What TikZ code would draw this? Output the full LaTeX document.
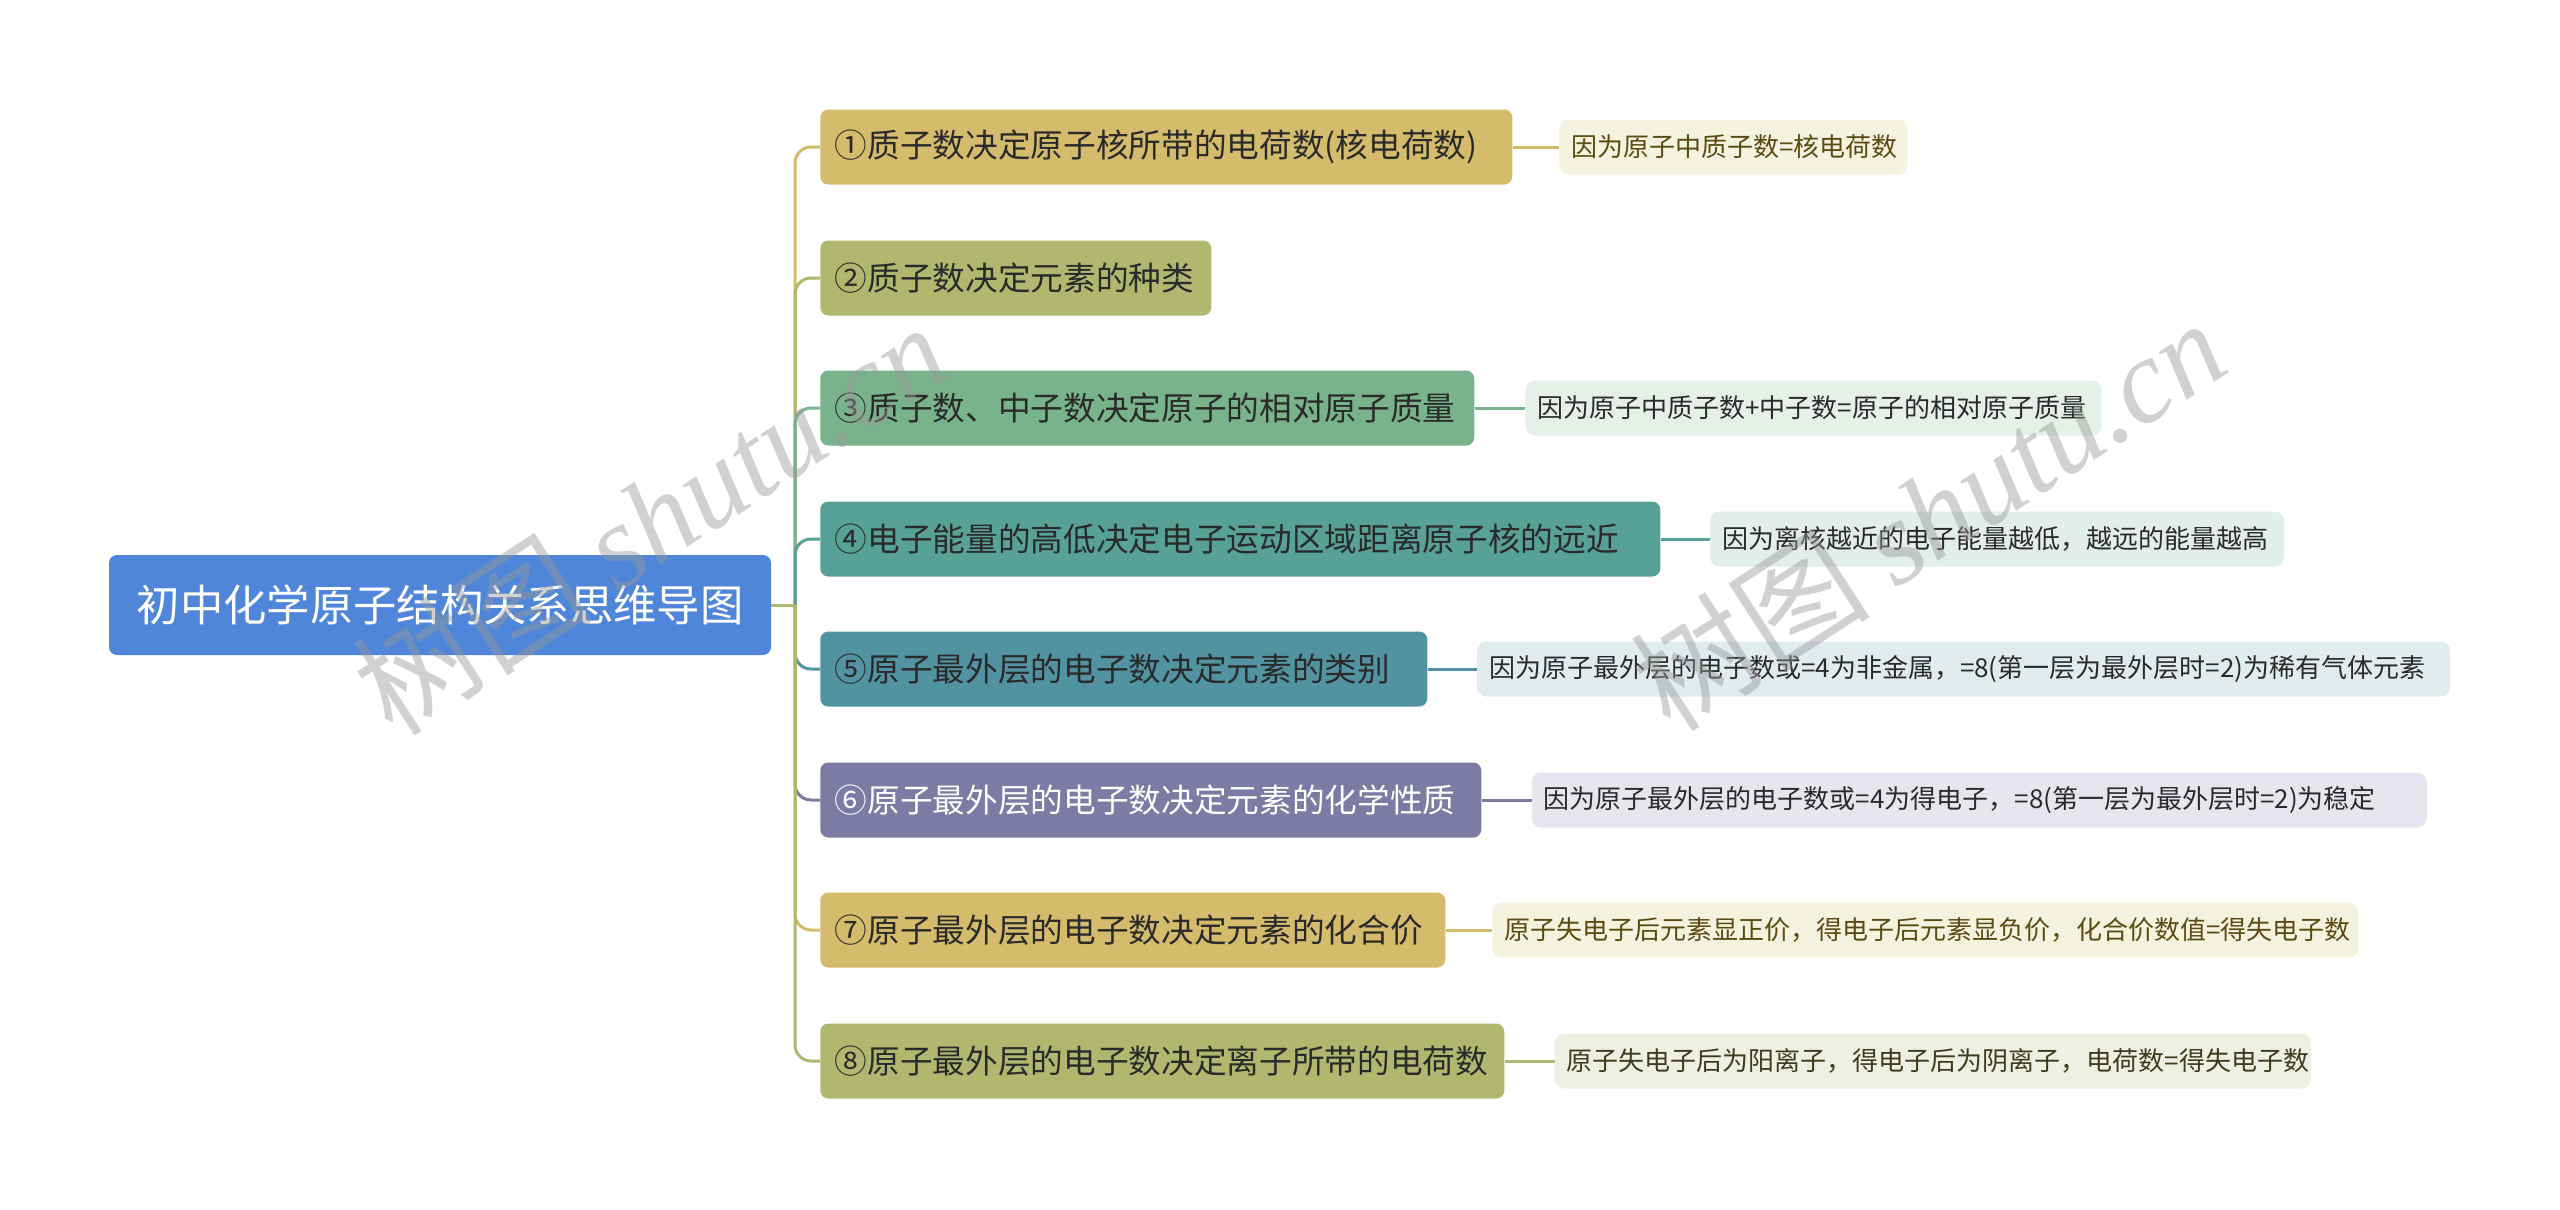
\documentclass[tikz,border=0pt]{standalone}
\usepackage{fontspec}
\setmainfont{Noto Sans CJK SC}
\newfontfamily\wmserif{Liberation Serif}
\definecolor{rootc}{HTML}{4F86D9}
\definecolor{cgold}{HTML}{D5BC6C}
\definecolor{colive}{HTML}{AFB86E}
\definecolor{cgreen}{HTML}{79B38C}
\definecolor{cteal}{HTML}{57A197}
\definecolor{cblue}{HTML}{5293A2}
\definecolor{cpurple}{HTML}{7B7BA3}
\definecolor{lgold}{HTML}{F6F2E0}
\definecolor{lgreen}{HTML}{E5F0E8}
\definecolor{lteal}{HTML}{E2EEEC}
\definecolor{lblue}{HTML}{E0ECEE}
\definecolor{lpurple}{HTML}{E6E6EE}
\definecolor{lolive}{HTML}{EFEFE3}
\definecolor{tdark}{HTML}{2A2A2A}
\definecolor{tbrown}{HTML}{5B4B12}
\definecolor{tolive}{HTML}{3C3C1E}
\tikzset{
  rootbox/.style={fill=rootc, rounded corners=6pt, text=white, minimum width=496.5pt, minimum height=75pt, inner xsep=10pt, font=\fontsize{32.5pt}{36pt}\selectfont},
  branchbox/.style={rounded corners=6pt, text=tdark, minimum height=56.25pt, inner xsep=11pt, anchor=west, align=left, font=\fontsize{24.5pt}{28pt}\selectfont},
  leafbox/.style={rounded corners=7pt, text=tdark, minimum height=41.25pt, inner xsep=9pt, anchor=west, align=left, font=\fontsize{19.5pt}{23pt}\selectfont},
  conn/.style={line width=2.25pt},
  curve/.style={line width=2.25pt, rounded corners=12pt},
  wmark/.style={rotate=33, text=black!40, text opacity=0.45, font=\fontsize{90pt}{96pt}\selectfont}
}
\begin{document}
\begin{tikzpicture}[x=0.75pt,y=-0.75pt]
\useasboundingbox (0,0) rectangle (2560,1210);
\fill[white] (0,0) rectangle (2560,1210);

\node[rootbox] (root) at (440,605) {初中化学原子结构关系思维导图};
\coordinate (sp) at (795,605);

\node[branchbox, fill=cgold, text width=497pt] (b1) at (820,147) {①质子数决定原子核所带的电荷数(核电荷数)};
\node[branchbox, fill=colive, text width=271.25pt] (b2) at (820,278) {②质子数决定元素的种类};
\node[branchbox, fill=cgreen, text width=468.5pt] (b3) at (820,408) {③质子数、中子数决定原子的相对原子质量};
\node[branchbox, fill=cteal, text width=608pt] (b4) at (820,539) {④电子能量的高低决定电子运动区域距离原子核的远近};
\node[branchbox, fill=cblue, text width=433.25pt] (b5) at (820,669) {⑤原子最外层的电子数决定元素的类别};
\node[branchbox, fill=cpurple, text=white, text width=473.75pt] (b6) at (820,800) {⑥原子最外层的电子数决定元素的化学性质};
\node[branchbox, fill=cgold, text width=446.75pt] (b7) at (820,930) {⑦原子最外层的电子数决定元素的化合价};
\node[branchbox, fill=colive, text width=491pt] (b8) at (820,1061) {⑧原子最外层的电子数决定离子所带的电荷数};

\node[leafbox, fill=lgold, text=tbrown, text width=243pt] (l1) at ([xshift=35pt]b1.east) {因为原子中质子数=核电荷数};
\node[leafbox, fill=lgreen, text width=414pt] (l3) at ([xshift=38pt]b3.east) {因为原子中质子数+中子数=原子的相对原子质量};
\node[leafbox, fill=lteal, text width=412.5pt] (l4) at ([xshift=37pt]b4.east) {因为离核越近的电子能量越低，越远的能量越高};
\node[leafbox, fill=lblue, text width=711.75pt] (l5) at ([xshift=37pt]b5.east) {因为原子最外层的电子数或=4为非金属，=8(第一层为最外层时=2)为稀有气体元素};
\node[leafbox, fill=lpurple, text width=653.25pt] (l6) at ([xshift=37.5pt]b6.east) {因为原子最外层的电子数或=4为得电子，=8(第一层为最外层时=2)为稳定};
\node[leafbox, fill=lgold, text=tbrown, text width=631.5pt] (l7) at ([xshift=35pt]b7.east) {原子失电子后元素显正价，得电子后元素显负价，化合价数值=得失电子数};
\node[leafbox, fill=lolive, text=tolive, text width=549pt] (l8) at ([xshift=37.5pt]b8.east) {原子失电子后为阳离子，得电子后为阴离子，电荷数=得失电子数};

\draw[curve, cgold] (sp) |- (b1.west);
\draw[curve, colive] (sp) |- (b2.west);
\draw[curve, cgreen] (sp) |- (b3.west);
\draw[curve, cteal] (sp) |- (b4.west);
\draw[curve, cblue] (sp) |- (b5.west);
\draw[curve, cpurple] (sp) |- (b6.west);
\draw[curve, cgold] (sp) |- (b7.west);
\draw[curve, colive] (sp) |- (b8.west);
\draw[conn, colive] (root.east) -- (sp);

\draw[conn, cgold] (b1.east) -- (l1.west);
\draw[conn, cgreen] (b3.east) -- (l3.west);
\draw[conn, cteal] (b4.east) -- (l4.west);
\draw[conn, cblue] (b5.east) -- (l5.west);
\draw[conn, cpurple] (b6.east) -- (l6.west);
\draw[conn, cgold] (b7.east) -- (l7.west);
\draw[conn, colive] (b8.east) -- (l8.west);

\node[wmark] (wm1) at (650,518) {树图 {\wmserif\itshape shutu.cn}};
\node[wmark] (wm2) at (1928,514) {树图 {\wmserif\itshape shutu.cn}};
\end{tikzpicture}
\end{document}
